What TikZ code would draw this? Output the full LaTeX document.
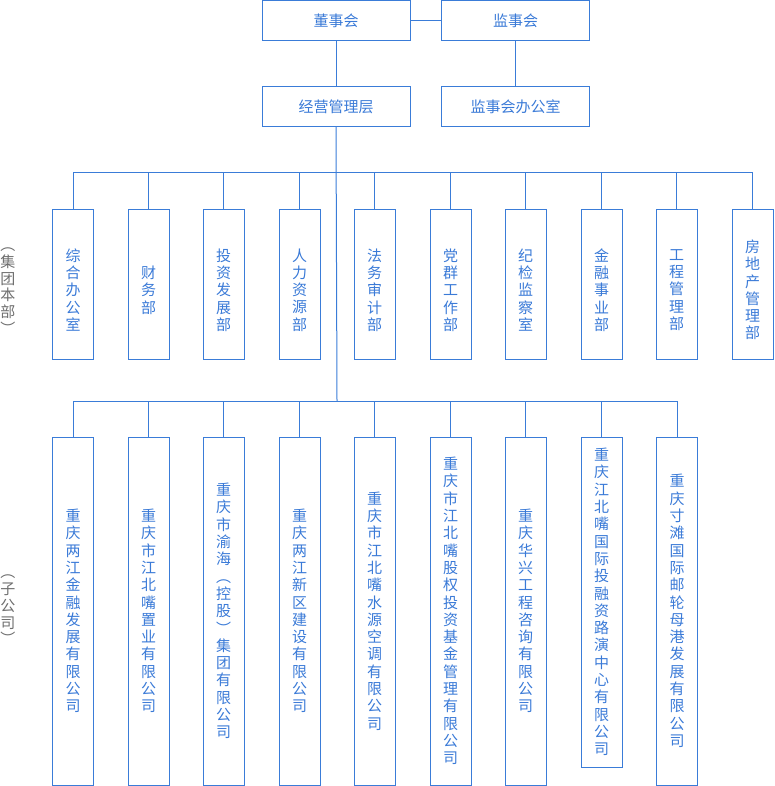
\documentclass[tikz,border=0pt]{standalone}
\usepackage{fontspec}
\setmainfont{Noto Sans CJK SC}
\definecolor{ln}{RGB}{58,124,216}
\definecolor{tx}{RGB}{58,122,215}
\definecolor{gr}{RGB}{110,110,110}
\tikzset{
  hbox/.style={draw=ln, line width=1pt, minimum width=148pt, minimum height=40pt, inner sep=0pt, text=tx, font=\fontsize{15}{18}\selectfont},
  vbox/.style={draw=ln, line width=1pt, minimum width=41pt, inner sep=0pt, text=tx, align=center, font=\fontsize{15}{17.3}\selectfont},
  dept/.style={draw=ln, line width=1pt, minimum width=41pt, minimum height=149pt, inner sep=0pt},
  dtxt/.style={text=tx, align=center, inner sep=0pt, font=\fontsize{15}{17.3}\selectfont, yshift=-5.5pt},
  sub/.style={vbox, minimum height=348pt},
  side/.style={text=gr, align=center, inner sep=0pt, font=\fontsize{15}{16.7}\selectfont},
  conn/.style={draw=ln, line width=1pt}
}
\newcommand\mydept[3]{\node[dept, label={[dtxt]center:{#3}}] (#1) at (#2,284.5) {};}
\begin{document}
\begin{tikzpicture}[x=1pt,y=-1pt]
\useasboundingbox (0,0) rectangle (774,786);
% top
\node[hbox] (dsh) at (336,21) {董事会};
\node[hbox] (jsh) at (515.5,21) {监事会};
\node[hbox] (jyc) at (336,106.5) {经营管理层};
\node[hbox] (jsb) at (515.5,106.5) {监事会办公室};
\coordinate (bus1) at (337,173);
\coordinate (bus2) at (337,401);
% side labels
\node[side] (lab1) at (8,291) {︵\\集\\团\\本\\部\\︶};
\node[side] (lab2) at (8,610) {︵\\子\\公\\司\\︶};
% departments
\mydept{d1}{73}{综\\合\\办\\公\\室}
\mydept{d2}{148.5}{财\\务\\部}
\mydept{d3}{223.5}{投\\资\\发\\展\\部}
\mydept{d4}{299.5}{人\\力\\资\\源\\部}
\mydept{d5}{374.5}{法\\务\\审\\计\\部}
\mydept{d6}{450.5}{党\\群\\工\\作\\部}
\mydept{d7}{525.5}{纪\\检\\监\\察\\室}
\mydept{d8}{601.5}{金\\融\\事\\业\\部}
\mydept{d9}{676.5}{工\\程\\管\\理\\部}
\mydept{d10}{752.5}{房\\地\\产\\管\\理\\部}
% subsidiaries
\node[sub] (s1) at (73,611) {重\\庆\\两\\江\\金\\融\\发\\展\\有\\限\\公\\司};
\node[sub] (s2) at (148.5,611) {重\\庆\\市\\江\\北\\嘴\\置\\业\\有\\限\\公\\司};
\node[sub] (s3) at (223.5,611) {重\\庆\\市\\渝\\海\\︵\\控\\股\\︶\\集\\团\\有\\限\\公\\司};
\node[sub] (s4) at (299.5,611) {重\\庆\\两\\江\\新\\区\\建\\设\\有\\限\\公\\司};
\node[sub] (s5) at (374.5,611) {重\\庆\\市\\江\\北\\嘴\\水\\源\\空\\调\\有\\限\\公\\司};
\node[sub] (s6) at (450.5,611) {重\\庆\\市\\江\\北\\嘴\\股\\权\\投\\资\\基\\金\\管\\理\\有\\限\\公\\司};
\node[sub] (s7) at (525.5,611) {重\\庆\\华\\兴\\工\\程\\咨\\询\\有\\限\\公\\司};
\node[vbox, minimum height=330pt] (s8) at (601.5,602) {重\\庆\\江\\北\\嘴\\国\\际\\投\\融\\资\\路\\演\\中\\心\\有\\限\\公\\司};
\node[sub] (s9) at (677,611) {重\\庆\\寸\\滩\\国\\际\\邮\\轮\\母\\港\\发\\展\\有\\限\\公\\司};
% connectors
\draw[conn] (dsh.east) -- (jsh.west);
\draw[conn] (dsh.south) -- (jyc.north);
\draw[conn] (jsh.south) -- (jsb.north);
\draw[conn] (jyc.south) -- (bus2);
\foreach \i in {1,...,10} \draw[conn] (d\i.north) |- (bus1);
\foreach \i in {1,...,9} \draw[conn] (s\i.north) |- (bus2);
\end{tikzpicture}
\end{document}
